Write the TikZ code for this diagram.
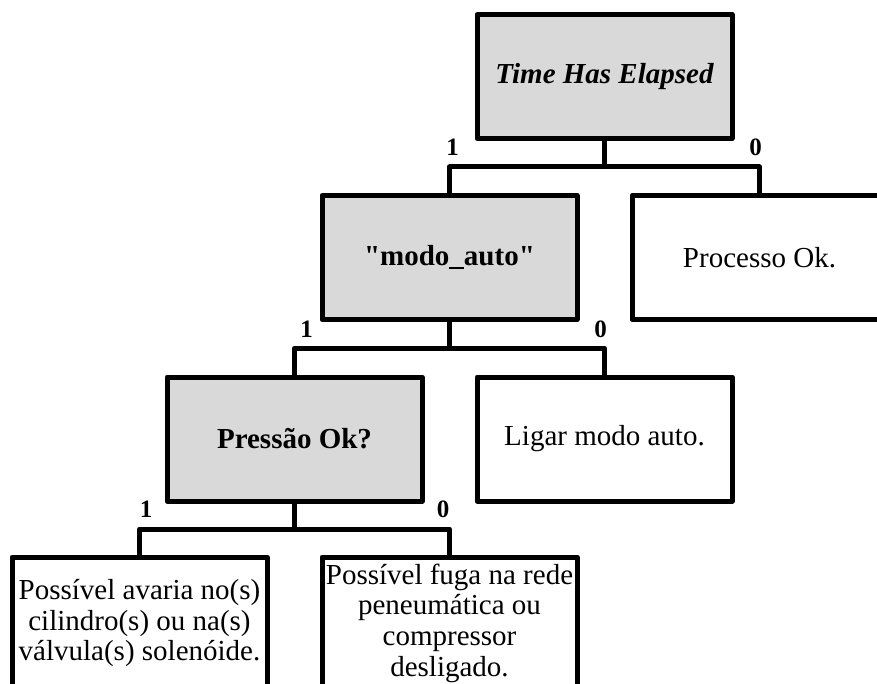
\documentclass[tikz,border=0pt]{standalone}
\usepackage{fontspec}
\setmainfont{Liberation Serif}[Ligatures=TeXOff]
\usetikzlibrary{calc}
\definecolor{boxgray}{RGB}{217,217,217}
\begin{document}
\begin{tikzpicture}[x=1pt,y=-1pt,
  box/.style={draw=black, line width=5pt, line join=round,
    minimum width=255pt, minimum height=124pt, inner sep=0pt, align=center,
    font=\fontsize{29}{30.7}\selectfont},
  test/.style={box, fill=boxgray, font=\fontsize{29}{30.7}\selectfont\bfseries},
  leaf/.style={box, fill=white},
  tall/.style={minimum height=132pt},
  wire/.style={line width=5pt, line join=round},
  lbl/.style={inner sep=0pt, font=\fontsize{25}{25}\selectfont\bfseries}]
\useasboundingbox (0,0) rectangle (877,684);
\clip (0,0) rectangle (877,684);
\fill[white] (0,0) rectangle (877,684);

% decision nodes
\node[test, font=\fontsize{29}{30.7}\selectfont\bfseries\itshape] (t0) at (604.5,76.5) {Time Has Elapsed};
\node[test] (t1) at (449.5,257.5) {"modo\_auto"};
\node[test] (t2) at (294.5,439) {Pressão Ok?};

% outcomes
\node[leaf] (r0) at (759.5,257.5) {Processo Ok.};
\node[leaf] (r1) at (604.5,439) {Ligar modo auto.};
\node[leaf, tall] (r2) at (139.5,623) {Possível avaria no(s)\\cilindro(s) ou na(s)\\válvula(s) solenóide.};
\node[leaf, tall] (r3) at (449.5,623) {Possível fuga na rede\\peneumática ou\\compressor\\desligado.};

% branches
\draw[wire] (t0.south) |- ($(t0.south)!.5!(t1.north)$) -| (t1.north);
\draw[wire] (t0.south) |- ($(t0.south)!.5!(r0.north)$) -| (r0.north);
\draw[wire] (t1.south) |- ($(t1.south)!.5!(t2.north)$) -| (t2.north);
\draw[wire] (t1.south) |- ($(t1.south)!.5!(r1.north)$) -| (r1.north);
\draw[wire] (t2.south) |- ($(t2.south)!.5!(r2.north)$) -| (r2.north);
\draw[wire] (t2.south) |- ($(t2.south)!.5!(r3.north)$) -| (r3.north);

% branch values
\node[lbl, anchor=base] (a1) at ($(t1.north)+(3,-37.5)$) {1};
\node[lbl, anchor=base east] (a0) at ($(r0.north)+(2.5,-37.5)$) {0};
\node[lbl, anchor=base] (b1) at ($(t2.north)+(12,-37.5)$) {1};
\node[lbl, anchor=base east] (b0) at ($(r1.north)+(2.5,-37.5)$) {0};
\node[lbl, anchor=base] (c1) at ($(r2.north)+(6.5,-37.5)$) {1};
\node[lbl, anchor=base east] (c0) at ($(r3.north)+(0,-37.5)$) {0};
\end{tikzpicture}
\end{document}
